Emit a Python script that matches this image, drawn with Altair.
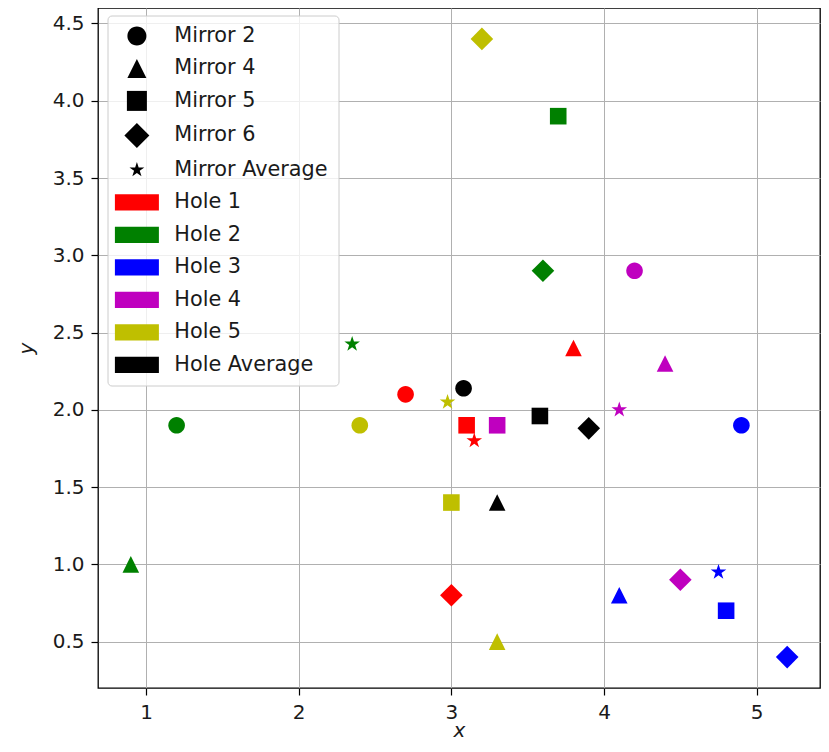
import math
import altair as alt
import pandas as pd

# ---------------- data ----------------
hole_names = ["Hole 1", "Hole 2", "Hole 3", "Hole 4", "Hole 5", "Hole Average"]
mirror_names = ["Mirror 2", "Mirror 4", "Mirror 5", "Mirror 6", "Mirror Average"]
hole_colors = ["#ff0000", "#008000", "#0000ff", "#bf00bf", "#bfbf00", "#000000"]

# values in mirror order: Mirror 2, Mirror 4, Mirror 5, Mirror 6, Mirror Average
hole1_x = [2.7, 3.8, 3.1, 3.0, 3.15]
hole1_y = [2.1, 2.4, 1.9, 0.8, 1.8]
hole2_x = [1.2, 0.9, 3.7, 3.6, 2.35]
hole2_y = [1.9, 1.0, 3.9, 2.9, 2.425]
hole3_x = [4.9, 4.1, 4.8, 5.2, 4.75]
hole3_y = [1.9, 0.8, 0.7, 0.4, 0.95]
hole4_x = [4.2, 4.4, 3.3, 4.5, 4.1]
hole4_y = [2.9, 2.3, 1.9, 0.9, 2.0]
hole5_x = [2.4, 3.3, 3.0, 3.2, 2.975]
hole5_y = [1.9, 0.5, 1.4, 4.4, 2.05]
holeavg_x = [3.08, 3.3, 3.58, 3.9]
holeavg_y = [2.14, 1.4, 1.96, 1.88]

series_x = [hole1_x, hole2_x, hole3_x, hole4_x, hole5_x, holeavg_x]
series_y = [hole1_y, hole2_y, hole3_y, hole4_y, hole5_y, holeavg_y]

rows = []
for h, xs, ys in zip(hole_names, series_x, series_y):
    for m, xv, yv in zip(mirror_names, xs, ys):
        rows.append({"x": xv, "y": yv, "hole": h, "mirror": m})
df = pd.DataFrame(rows)

legend_keys = mirror_names + hole_names
legend_df = pd.DataFrame({"key": legend_keys})

# ---------------- marker shapes (unit: 10 px at size 400) ----------------
def f(v):
    return f"{v:.3f}"

def circle(r, dx=0.0):
    return (f"M{f(dx - r)},0A{f(r)},{f(r)} 0 1,0 {f(dx + r)},0"
            f"A{f(r)},{f(r)} 0 1,0 {f(dx - r)},0Z")

def poly(pts, dx=0.0):
    return "M" + "L".join(f"{f(px + dx)},{f(py)}" for px, py in pts) + "Z"

def tri(r, dx=0.0):
    return poly([(0, -r), (r, r), (-r, r)], dx)

def square(r, dx=0.0):
    return poly([(-r, -r), (r, -r), (r, r), (-r, r)], dx)

def diamond(r, dx=0.0):
    return poly([(0, -r), (r, 0), (0, r), (-r, 0)], dx)

def star(r, dx=0.0):
    pts = []
    for k in range(10):
        a = math.radians(-90 + 36 * k)
        rr = r if k % 2 == 0 else r * 0.381966
        pts.append((rr * math.cos(a), rr * math.sin(a)))
    return poly(pts, dx)

def rect(w, h, dx=0.0):
    return poly([(-w, -h), (w, -h), (w, h), (-w, h)], dx)

plot_shapes = [circle(0.83), tri(0.83), square(0.83), diamond(1.13), star(0.82)]
LDX = 0.9  # shift legend glyphs to the right inside their slot
legend_shapes = [circle(0.95, LDX), tri(0.95, LDX), square(1.0, LDX),
                 diamond(1.25, LDX), star(0.78, LDX)] + [rect(2.2, 0.82, LDX)] * 6
legend_colors = ["#000000"] * 5 + hole_colors

# ---------------- chart ----------------
points = alt.Chart(df).mark_point(filled=True, opacity=1, size=400, strokeWidth=0).encode(
    x=alt.X("x:Q", title="x",
            scale=alt.Scale(domain=[0.685, 5.415], nice=False, zero=False),
            axis=alt.Axis(values=[1, 2, 3, 4, 5], format="d")),
    y=alt.Y("y:Q", title="y",
            scale=alt.Scale(domain=[0.2, 4.6], nice=False, zero=False),
            axis=alt.Axis(values=[0.5, 1.0, 1.5, 2.0, 2.5, 3.0, 3.5, 4.0, 4.5], format=".1f")),
    color=alt.Color("hole:N", scale=alt.Scale(domain=hole_names, range=hole_colors), legend=None),
    shape=alt.Shape("mirror:N", scale=alt.Scale(domain=mirror_names, range=plot_shapes), legend=None),
)

legend_layer = alt.Chart(legend_df).mark_point(filled=True, opacity=0, size=400).encode(
    color=alt.Color("key:N", scale=alt.Scale(domain=legend_keys, range=legend_colors),
                    sort=legend_keys, title=None),
    shape=alt.Shape("key:N", scale=alt.Scale(domain=legend_keys, range=legend_shapes),
                    sort=legend_keys, title=None),
)

chart = alt.layer(points, legend_layer).resolve_scale(
    color="independent", shape="independent"
).properties(
    width=722, height=680,
    autosize=alt.AutoSizeParams(type="none"),
    padding={"left": 90, "top": 0, "right": 1, "bottom": 56},
).configure_view(
    stroke="#000000", strokeWidth=1.3
).configure_axis(
    domain=False,
    grid=True, gridColor="#b0b0b0", gridWidth=1,
    ticks=True, tickColor="#000000", tickWidth=1.2, tickSize=7,
    labelFont="DejaVu Sans", labelFontSize=20, labelColor="#1a1a1a", labelPadding=7,
    titleFont="DejaVu Sans", titleFontSize=20, titleFontStyle="italic",
    titleFontWeight="normal", titleColor="#1a1a1a",
).configure_axisX(
    titleY=48, titleBaseline="alphabetic"
).configure_axisY(
    titlePadding=16
).configure_legend(
    orient="none", legendX=9.5, legendY=7.5, direction="vertical",
    padding=10, rowPadding=10.5, labelOffset=36, labelLimit=0,
    labelFont="DejaVu Sans", labelFontSize=20.8, labelColor="#1a1a1a",
    fillColor="rgba(255,255,255,0.8)", strokeColor="#cccccc", cornerRadius=4,
    symbolSize=400, symbolStrokeWidth=0, symbolOpacity=1,
)

chart.save("out.html", embed_options={"renderer": "svg", "actions": False})
